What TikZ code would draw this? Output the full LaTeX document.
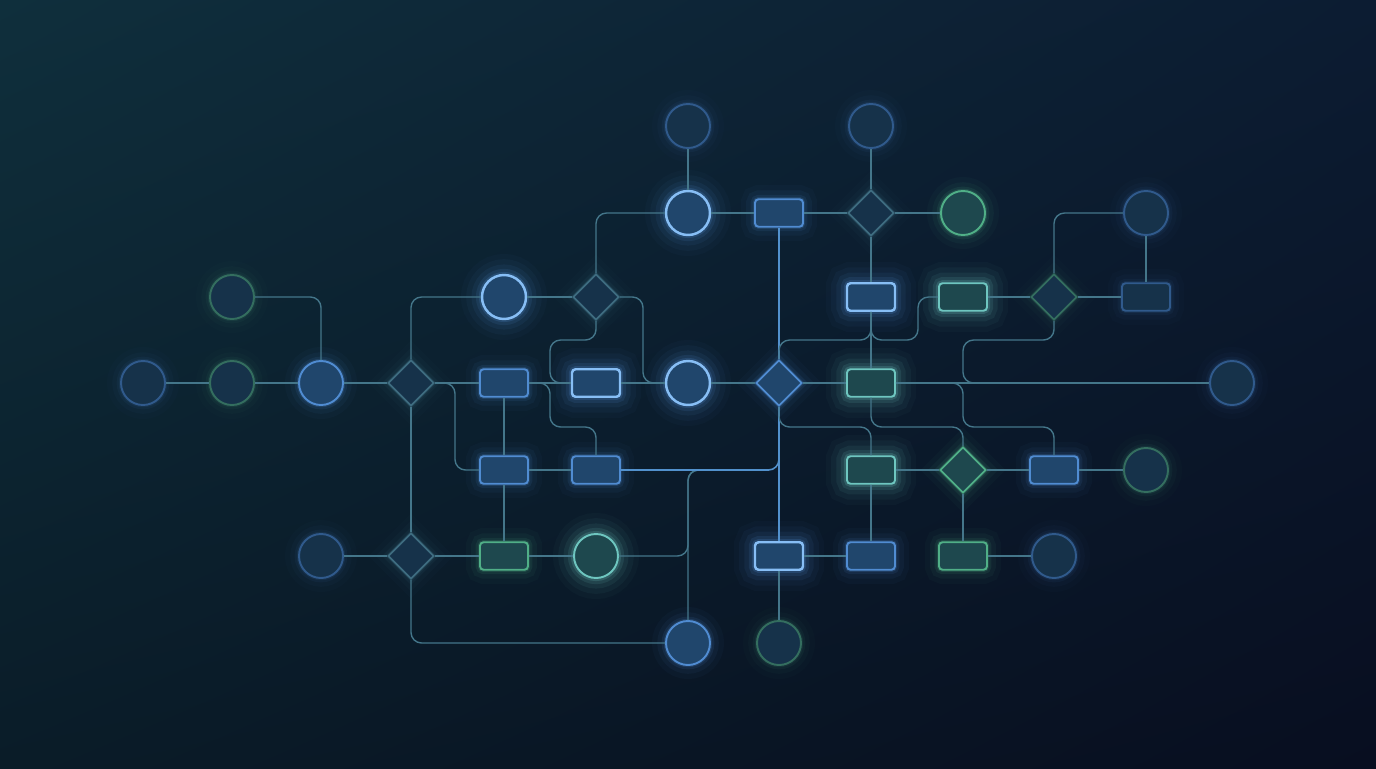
\documentclass[tikz,border=0pt]{standalone}
\usepackage{tikz}
\usepackage{xcolor}
\usetikzlibrary{shapes,shadings,positioning,calc}
\definecolor{bgtl}{RGB}{15,47,60}
\definecolor{bgtr}{RGB}{12,28,50}
\definecolor{bgbl}{RGB}{10,28,40}
\definecolor{bgbr}{RGB}{8,14,32}
\definecolor{linkcolor}{RGB}{68,118,138}
\definecolor{hotcolor}{RGB}{82,145,205}
\definecolor{brightcolor}{RGB}{135,190,245}
\definecolor{bluecolor}{RGB}{80,140,210}
\definecolor{dimcolor}{RGB}{48,90,140}
\definecolor{tealcolor}{RGB}{110,198,192}
\definecolor{greencolor}{RGB}{80,175,135}
\definecolor{dimgreencolor}{RGB}{52,110,95}
\definecolor{diacolor}{RGB}{62,108,128}
\definecolor{bluefill}{RGB}{32,70,108}
\definecolor{dimfill}{RGB}{22,50,74}
\definecolor{greenfill}{RGB}{30,72,78}

\begin{document}
\begin{tikzpicture}[
    x=0.02cm, y=-0.02cm,
    glow/.style={
        preaction={draw=#1, line width=16pt, draw opacity=0.035},
        preaction={draw=#1, line width=10pt, draw opacity=0.06},
        preaction={draw=#1, line width=5pt, draw opacity=0.1},
        preaction={draw=#1, line width=2.5pt, draw opacity=0.18}
    },
    bigglow/.style={
        preaction={draw=#1, line width=24pt, draw opacity=0.03},
        preaction={draw=#1, line width=18pt, draw opacity=0.05},
        preaction={draw=#1, line width=12pt, draw opacity=0.08},
        preaction={draw=#1, line width=7pt, draw opacity=0.12},
        preaction={draw=#1, line width=3.5pt, draw opacity=0.2}
    },
    circ/.style={circle, minimum size=0.88cm, inner sep=0pt, line width=1.1pt},
    box/.style={rectangle, rounded corners=2pt, minimum width=0.96cm,
        minimum height=0.55cm, inner sep=0pt, line width=1.1pt},
    dia/.style={diamond, aspect=1, minimum size=0.92cm, inner sep=0pt,
        line width=1pt},
    bright/.style={draw=brightcolor, fill=bluefill, bigglow=bluecolor, line width=1.4pt},
    blue/.style={draw=bluecolor, fill=bluefill, glow=bluecolor},
    dim/.style={draw=dimcolor, fill=dimfill, glow=dimcolor},
    teal/.style={draw=tealcolor, fill=greenfill, bigglow=tealcolor},
    green/.style={draw=greencolor, fill=greenfill, glow=greencolor},
    dimgreen/.style={draw=dimgreencolor, fill=dimfill, glow=dimgreencolor},
    grey/.style={draw=diacolor, fill=dimfill, glow=diacolor},
    link/.style={draw=linkcolor, line width=0.8pt, rounded corners=6pt},
    hot/.style={draw=hotcolor, line width=0.9pt, rounded corners=6pt}
]

% Background
\shade[upper left=bgtl, upper right=bgtr, lower left=bgbl, lower right=bgbr]
    (0,0) rectangle (1376,768);
\useasboundingbox (0,0) rectangle (1376,768);

% Nodes
\node[circ, dim]       (c1)  at (688,126) {};
\node[circ, dim]       (c2)  at (871,126) {};
\node[circ, bright]    (c3)  at (688,213) {};
\node[box, blue]       (r1)  at (779,213) {};
\node[dia, grey]       (d1)  at (871,213) {};
\node[circ, green]     (c4)  at (963,213) {};
\node[circ, dim]       (c5)  at (1146,213) {};

\node[circ, dimgreen]  (c6)  at (232,297) {};
\node[circ, bright]    (c7)  at (504,297) {};
\node[dia, grey]       (d2)  at (596,297) {};
\node[box, bright]     (r2)  at (871,297) {};
\node[box, teal]       (r3)  at (963,297) {};
\node[dia, dimgreen]   (d3)  at (1054,297) {};
\node[box, dim]        (r4)  at (1146,297) {};

\node[circ, dim]       (c8)  at (143,383) {};
\node[circ, dimgreen]  (c9)  at (232,383) {};
\node[circ, blue]      (c10) at (321,383) {};
\node[dia, grey]       (d4)  at (411,383) {};
\node[box, blue]       (r5)  at (504,383) {};
\node[box, bright]     (r6)  at (596,383) {};
\node[circ, bright]    (c11) at (688,383) {};
\node[dia, blue]       (d5)  at (779,383) {};
\node[box, teal]       (r7)  at (871,383) {};
\node[circ, dim]       (c12) at (1232,383) {};

\node[box, blue]       (r8)  at (504,470) {};
\node[box, blue]       (r9)  at (596,470) {};
\node[box, teal]       (r10) at (871,470) {};
\node[dia, green]      (d6)  at (963,470) {};
\node[box, blue]       (r11) at (1054,470) {};
\node[circ, dimgreen]  (c13) at (1146,470) {};

\node[circ, dim]       (c14) at (321,556) {};
\node[dia, grey]       (d7)  at (411,556) {};
\node[box, green]      (r12) at (504,556) {};
\node[circ, teal]      (c15) at (596,556) {};
\node[box, bright]     (r13) at (779,556) {};
\node[box, blue]       (r14) at (871,556) {};
\node[box, green]      (r15) at (963,556) {};
\node[circ, dim]       (c16) at (1054,556) {};

\node[circ, blue]      (c17) at (688,643) {};
\node[circ, dimgreen]  (c18) at (779,643) {};

% Main line
\draw[link] (c8) -- (c9);
\draw[link] (c9) -- (c10);
\draw[link] (c10) -- (d4);
\draw[link] (d4) -- (r5);
\draw[link] (r5) -- (r6);
\draw[link] (r6) -- (c11);
\draw[link] (c11) -- (d5);
\draw[link] (d5) -- (r7);
\draw[link] (r7) -- (c12);

% Left part
\draw[link] (c6.east) -| (c10.north);
\draw[link] (d4.north) |- (c7.west);
\draw[link] (c7) -- (d2);
\draw[link] (c3.west) -| (d2.north);
\draw[link] (d2.east) -| (643,340) |- (c11.west);
\draw[link] (d2.south) |- (550,340) |- (r6.west);
\draw[link] (r5.east) -| (550,427) -| (r9.north);
\draw[link] (d4.east) -| (455,430) |- (r8.west);
\draw[link] (r5) -- (r8);
\draw[link] (r8) -- (r12);
\draw[link] (r8) -- (r9);
\draw[link] (d4) -- (d7);
\draw[link] (c14) -- (d7);
\draw[link] (d7) -- (r12);
\draw[link] (r12) -- (c15);
\draw[link] (d7.south) |- (c17.west);
\draw[link] (c15.east) -| (688,470) -- (760,470);
\draw[link] (c17.north) |- (760,470);

% Centre
\draw[hot] (r9.east) -| (d5.south);
\draw[hot] (d5) -- (r1);
\draw[hot] (d5) -- (r13);
\draw[link] (r13) -- (c18);
\draw[link] (r13) -- (r14);
\draw[link] (c1) -- (c3);
\draw[link] (c3) -- (r1);
\draw[link] (r1) -- (d1);
\draw[link] (d1) -- (c4);
\draw[link] (c2) -- (d1);
\draw[link] (d1) -- (r2);
\draw[link] (r2) -- (r7);
\draw[link] (d5.north) |- (840,340) -| (r2.south);
\draw[link] (r3.west) -| (918,340) -| (r2.south);
\draw[link] (d5.south) |- (820,427) -| (r10.north);

% Right part
\draw[link] (r3) -- (d3);
\draw[link] (d3) -- (r4);
\draw[link] (c5) -- (r4);
\draw[link] (d3.north) |- (c5.west);
\draw[link] (d3.south) |- (963,340) |- (1000,383);
\draw[link] (r7.east) -| (963,427) -| (r11.north);
\draw[link] (r7.south) |- (920,427) -| (d6.north);
\draw[link] (r10) -- (d6);
\draw[link] (d6) -- (r11);
\draw[link] (r11) -- (c13);
\draw[link] (r10) -- (r14);
\draw[link] (d6) -- (r15);
\draw[link] (r15) -- (c16);

\end{tikzpicture}
\end{document}
